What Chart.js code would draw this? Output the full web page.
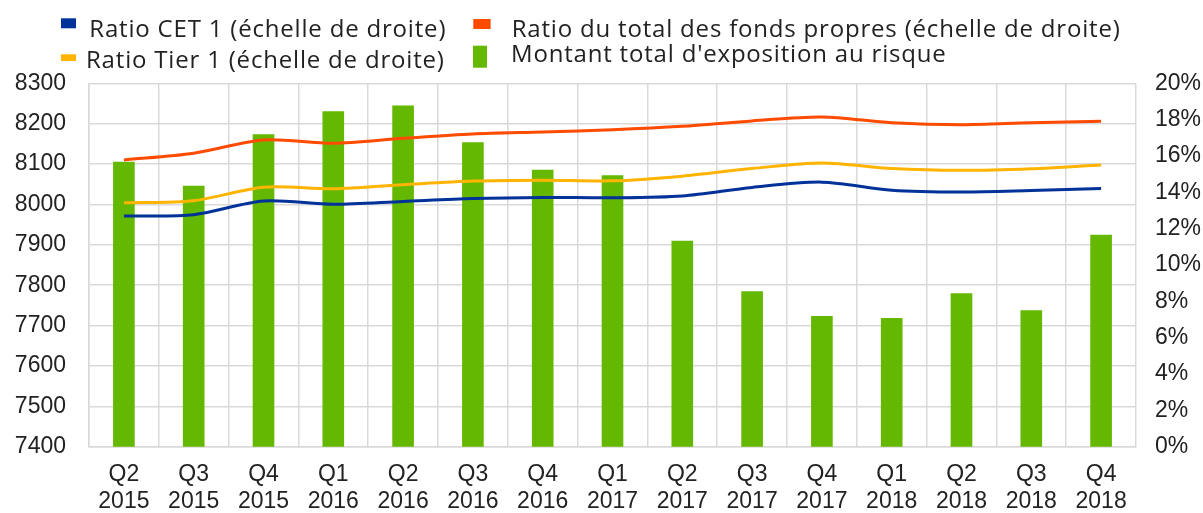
<!DOCTYPE html>
<html>
<head>
<meta charset="utf-8">
<script src="https://cdn.jsdelivr.net/npm/chart.js@4.4.1/dist/chart.umd.min.js"></script>
<style>
  html, body { margin: 0; padding: 0; background: #ffffff; }
  #wrap { width: 1203px; height: 513px; position: relative; }
</style>
</head>
<body>
<div id="wrap"><canvas id="c" width="1203" height="513"></canvas></div>
<script>
// ---------- data ----------
const quarters = ['Q2','Q3','Q4','Q1','Q2','Q3','Q4','Q1','Q2','Q3','Q4','Q1','Q2','Q3','Q4'];
const years    = ['2015','2015','2015','2016','2016','2016','2016','2017','2017','2017','2017','2018','2018','2018','2018'];
const categories = quarters.map((q, i) => [q, years[i]]);

// Montant total d'exposition au risque (left axis)
const montantExposition = [8106, 8046, 8174, 8231, 8245, 8154, 8086, 8072, 7910, 7785, 7724, 7719, 7780, 7738, 7925];
// Ratios (right axis, %)
const ratioCET1  = [12.70, 12.77, 13.52, 13.34, 13.50, 13.66, 13.72, 13.70, 13.80, 14.27, 14.56, 14.12, 14.02, 14.10, 14.21];
const ratioTier1 = [13.43, 13.54, 14.28, 14.20, 14.42, 14.62, 14.67, 14.63, 14.89, 15.31, 15.62, 15.31, 15.21, 15.30, 15.51];
const ratioTotal = [15.78, 16.15, 16.88, 16.70, 16.97, 17.21, 17.32, 17.44, 17.63, 17.93, 18.15, 17.83, 17.72, 17.83, 17.91];

const leftTicks  = [7400, 7500, 7600, 7700, 7800, 7900, 8000, 8100, 8200, 8300];
const rightTicks = [0, 2, 4, 6, 8, 10, 12, 14, 16, 18, 20];

const labelCET1   = 'Ratio CET 1 (échelle de droite)';
const labelTotal  = 'Ratio du total des fonds propres (échelle de droite)';
const labelTier1  = 'Ratio Tier 1 (échelle de droite)';
const labelMontant = "Montant total d'exposition au risque";

// ---------- styles ----------
const COL_BLUE = '#003299';
const COL_ORANGE = '#ff4b00';
const COL_YELLOW = '#ffb400';
const COL_GREEN = '#65b800';
const GRID = '#d9d9d9';
const TEXT = '#222222';
const TICK_FONT = { family: '"Liberation Sans", Arial, sans-serif', size: 23, lineHeight: 1.15 };

// legend layout (dataset index, box rect, text start & baseline)
const legendLayout = [
  { ds: 1, box: [61, 18.3, 15, 10],    text: [89.3, 36.7] },
  { ds: 2, box: [473.3, 19, 17.3, 10], text: [511.7, 36.7] },
  { ds: 3, box: [61, 54.3, 15, 6.7],   text: [86, 68.3] },
  { ds: 0, box: [473, 45.7, 14, 22],   text: [511, 61.7] }
];

const customLegend = {
  id: 'customLegend',
  afterDraw(chart) {
    const ctx = chart.ctx;
    ctx.save();
    ctx.font = '24px "Open Sans", sans-serif';
    const ref = ctx.measureText(labelCET1).width;
    const spacing = (357 - ref) / labelCET1.length;
    if ('letterSpacing' in ctx) ctx.letterSpacing = spacing.toFixed(2) + 'px';
    ctx.textBaseline = 'alphabetic';
    ctx.textAlign = 'left';
    legendLayout.forEach(item => {
      const ds = chart.data.datasets[item.ds];
      ctx.fillStyle = ds.legendColor;
      ctx.fillRect(item.box[0], item.box[1], item.box[2], item.box[3]);
      ctx.fillStyle = TEXT;
      ctx.fillText(ds.label, item.text[0], item.text[1]);
    });
    ctx.restore();
  }
};

new Chart(document.getElementById('c'), {
  type: 'bar',
  data: {
    labels: categories,
    datasets: [
      {
        type: 'bar', label: labelMontant, data: montantExposition,
        backgroundColor: COL_GREEN, legendColor: COL_GREEN,
        yAxisID: 'y', order: 2,
        barPercentage: 0.31, categoryPercentage: 1.0
      },
      {
        type: 'line', label: labelCET1, data: ratioCET1,
        borderColor: COL_BLUE, legendColor: COL_BLUE, borderWidth: 3,
        pointRadius: 0, tension: 0.3, yAxisID: 'y1', order: 1
      },
      {
        type: 'line', label: labelTotal, data: ratioTotal,
        borderColor: COL_ORANGE, legendColor: COL_ORANGE, borderWidth: 3,
        pointRadius: 0, tension: 0.3, yAxisID: 'y1', order: 1
      },
      {
        type: 'line', label: labelTier1, data: ratioTier1,
        borderColor: COL_YELLOW, legendColor: COL_YELLOW, borderWidth: 3,
        pointRadius: 0, tension: 0.3, yAxisID: 'y1', order: 1
      }
    ]
  },
  options: {
    responsive: false,
    animation: false,
    devicePixelRatio: 1,
    layout: { padding: { top: 83.3, left: 0, right: 0, bottom: 0 } },
    plugins: { legend: { display: false }, tooltip: { enabled: false } },
    scales: {
      x: {
        offset: true,
        grid: { color: GRID, lineWidth: 1.5, drawTicks: false, offset: true },
        border: { color: GRID, width: 1.5 },
        ticks: { font: TICK_FONT, color: TEXT, padding: 15, maxRotation: 0, autoSkip: false },
        afterFit: s => { s.height = 66.3; }
      },
      y: {
        position: 'left',
        min: leftTicks[0], max: leftTicks[leftTicks.length - 1],
        afterBuildTicks: s => { s.ticks = leftTicks.map(v => ({ value: v })); },
        grid: { color: GRID, lineWidth: 1.5, drawTicks: false },
        border: { color: GRID, width: 1.5 },
        ticks: { font: TICK_FONT, color: TEXT, padding: 23, callback: v => String(v) },
        afterFit: s => { s.width = 89; }
      },
      y1: {
        position: 'right',
        min: rightTicks[0], max: rightTicks[rightTicks.length - 1],
        afterBuildTicks: s => { s.ticks = rightTicks.map(v => ({ value: v })); },
        grid: { display: false, drawTicks: false },
        border: { display: false },
        ticks: { font: TICK_FONT, color: TEXT, padding: 19, callback: v => v + '%' },
        afterFit: s => { s.width = 67; }
      }
    }
  },
  plugins: [customLegend]
});
</script>
</body>
</html>
